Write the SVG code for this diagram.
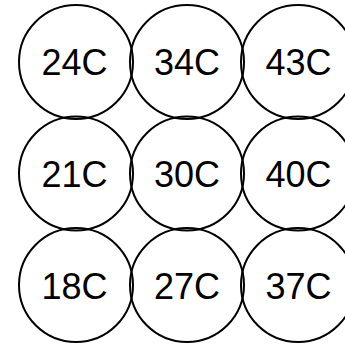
<svg xmlns="http://www.w3.org/2000/svg" width="345" height="344" viewBox="0 0 345 344">
<style>
.n circle{fill:#fff;fill-opacity:0;stroke:#000;stroke-width:2}
.n text{font-family:"Liberation Sans",Arial,sans-serif;font-size:36px;fill:#000;text-anchor:middle}
</style>
<rect width="345" height="344" fill="#fff"/>
<g id="connectors"/>
<g id="n24" class="n"><circle cx="76" cy="62" r="57"/><text x="74.5" y="75">24C</text></g>
<g id="n34" class="n"><circle cx="187" cy="62" r="57"/><text x="187" y="75">34C</text></g>
<g id="n43" class="n"><circle cx="298" cy="62" r="57"/><text x="298.5" y="75">43C</text></g>
<g id="n21" class="n"><circle cx="76" cy="173.5" r="57"/><text x="74.5" y="187">21C</text></g>
<g id="n30" class="n"><circle cx="187" cy="173.5" r="57"/><text x="187" y="187">30C</text></g>
<g id="n40" class="n"><circle cx="298" cy="173.5" r="57"/><text x="298.5" y="187">40C</text></g>
<g id="n18" class="n"><circle cx="76" cy="285" r="57"/><text x="74.5" y="299">18C</text></g>
<g id="n27" class="n"><circle cx="187" cy="285" r="57"/><text x="187" y="299">27C</text></g>
<g id="n37" class="n"><circle cx="298" cy="285" r="57"/><text x="298.5" y="299">37C</text></g>
</svg>
